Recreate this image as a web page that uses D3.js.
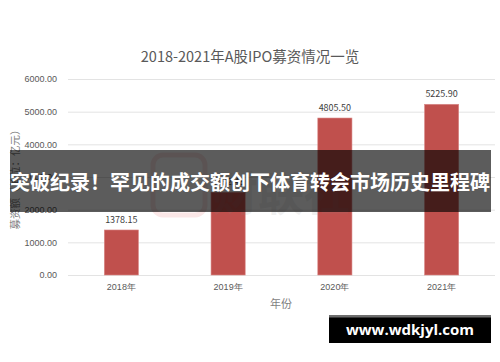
<!DOCTYPE html>
<html><head><meta charset="utf-8">
<script src="https://cdn.jsdelivr.net/npm/d3@7"></script>
<style>
html,body{margin:0;padding:0;background:#fff;}
svg{display:block;font-family:"Noto Sans CJK SC","Noto Sans",sans-serif;}
</style></head>
<body>
<svg id="c" width="500" height="362"></svg>
<script>
const title = "2018-2021年A股IPO募资情况一览";
const categories = ["2018年","2019年","2020年","2021年"];
const values = [1378.15, 2532.48, 4805.50, 5225.90];
const yTicks = [0,1000,2000,3000,4000,5000,6000];
const xAxisTitle = "年份";
const yAxisTitle = "募资额（单位：亿元）";
const bannerText = "突破纪录！罕见的成交额创下体育转会市场历史里程碑";
const logoText = "财联社";
const siteText = "www.wdkjyl.com";

const svg = d3.select("#c");
const x = d3.scaleBand().domain(categories).range([68,495]).paddingInner(0.68).paddingOuter(0.34);
const y = d3.scaleLinear().domain([0,6000]).range([275,79]);

// title
svg.append("text").attr("x",250).attr("y",62).attr("text-anchor","middle")
  .attr("font-size",14.5).attr("fill","#595959").text(title);

// grid
const gy = svg.append("g").attr("transform","translate(68,0)")
  .call(d3.axisLeft(y).tickValues(yTicks).tickSize(-427).tickFormat(d=>d3.format(".2f")(d)).tickPadding(11));
gy.select(".domain").remove();
gy.selectAll(".tick line").attr("stroke","#e3e3e3");
gy.selectAll(".tick text").attr("fill","#595959").attr("font-size",9);

// bars
svg.append("g").selectAll("rect").data(values).join("rect")
  .attr("x",(d,i)=>x(categories[i])).attr("width",x.bandwidth())
  .attr("y",d=>y(d)).attr("height",d=>y(0)-y(d))
  .attr("fill","#c0504d").attr("stroke","#d98a88").attr("stroke-width",0.6);

// value labels
svg.append("g").selectAll("text").data(values).join("text")
  .attr("x",(d,i)=>x(categories[i])+x.bandwidth()/2).attr("y",d=>y(d)-7)
  .attr("text-anchor","middle").attr("font-size",9).attr("fill","#404040")
  .text(d=>d3.format(".2f")(d));

// x axis
const gx = svg.append("g").attr("transform","translate(0,275)")
  .call(d3.axisBottom(x).tickSize(0).tickPadding(9));
gx.select(".domain").remove();
gx.selectAll(".tick text").attr("fill","#595959").attr("font-size",9);

svg.append("text").attr("x",281).attr("y",308).attr("text-anchor","middle")
  .attr("font-size",11).attr("fill","#7f7f7f").text(xAxisTitle);
svg.append("text").attr("transform","translate(19,177) rotate(-90)").attr("text-anchor","middle")
  .attr("font-size",10.5).attr("fill","#7f7f7f").text(yAxisTitle);

// faint logo
const logo = svg.append("g").attr("opacity",0.12);
logo.append("rect").attr("x",153).attr("y",155).attr("width",52).attr("height",60).attr("rx",10)
  .attr("fill","none").attr("stroke","#e04040").attr("stroke-width",5);
logo.append("text").attr("x",212).attr("y",210).attr("font-size",46).attr("font-weight","bold")
  .attr("fill","#888").text(logoText);

// banner
svg.append("rect").attr("x",10).attr("y",150).attr("width",481).attr("height",62)
  .attr("fill","#000").attr("opacity",0.64);
svg.append("text").attr("x",250).attr("y",190).attr("text-anchor","middle")
  .attr("font-size",20).attr("font-weight","bold").attr("fill","#fff").text(bannerText);

// site box
svg.append("rect").attr("x",329).attr("y",315).attr("width",162).attr("height",28).attr("fill","#000");
svg.append("rect").attr("x",329).attr("y",315).attr("width",162).attr("height",2.5).attr("fill","#6e6e6e");
svg.append("text").attr("x",410).attr("y",335).attr("text-anchor","middle")
  .attr("font-size",15).attr("font-weight","bold").attr("fill","#fff").attr("font-family","'Open Sans','DejaVu Sans',sans-serif").text(siteText);
</script>
</body></html>
